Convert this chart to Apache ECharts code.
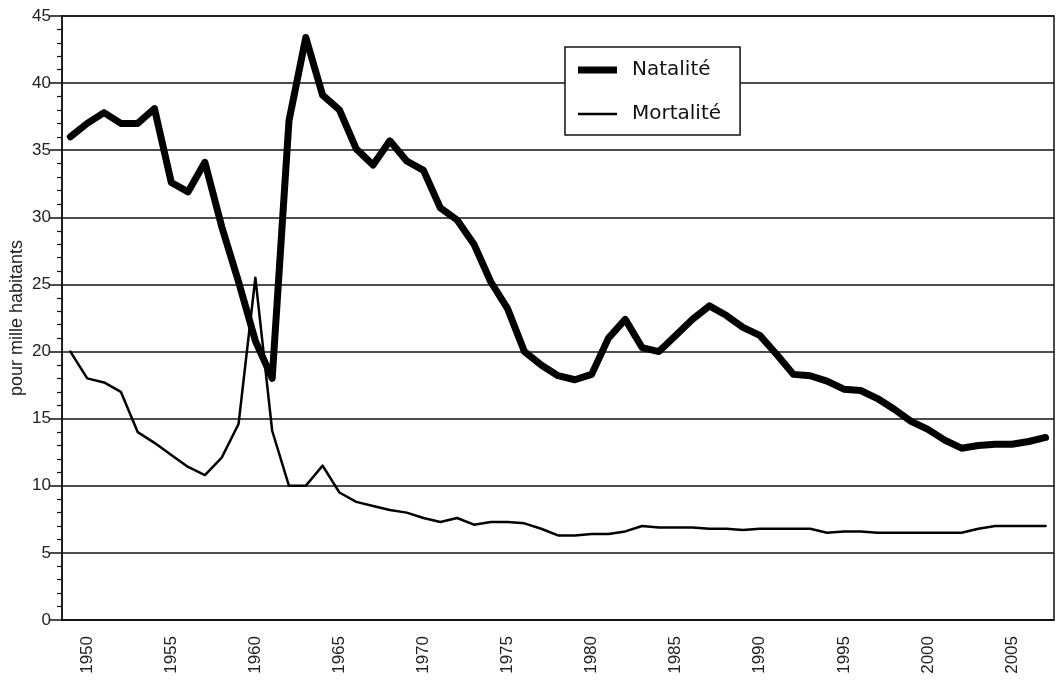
<!DOCTYPE html>
<html>
<head>
<meta charset="utf-8">
<script src="https://cdn.jsdelivr.net/npm/echarts@6/dist/echarts.min.js"></script>
<style>
  html, body { margin: 0; padding: 0; background: #fff; }
  #chart { width: 1057px; height: 684px; }
</style>
</head>
<body>
<div id="chart"></div>
<script>
// années
const years = [
  "1949", "1950", "1951", "1952", "1953", "1954", "1955", "1956", "1957", "1958",
  "1959", "1960", "1961", "1962", "1963", "1964", "1965", "1966", "1967", "1968",
  "1969", "1970", "1971", "1972", "1973", "1974", "1975", "1976", "1977", "1978",
  "1979", "1980", "1981", "1982", "1983", "1984", "1985", "1986", "1987", "1988",
  "1989", "1990", "1991", "1992", "1993", "1994", "1995", "1996", "1997", "1998",
  "1999", "2000", "2001", "2002", "2003", "2004", "2005", "2006", "2007"
];
// taux de natalité (pour mille)
const natalite = [
  36.0, 37.0, 37.8, 37.0, 37.0, 38.1, 32.6, 31.9, 34.1, 29.3,
  25.2, 20.8, 18.0, 37.2, 43.4, 39.1, 38.0, 35.1, 33.9, 35.7,
  34.2, 33.5, 30.7, 29.8, 28.0, 25.2, 23.2, 20.0, 19.0, 18.2,
  17.9, 18.3, 21.0, 22.4, 20.3, 20.0, 21.2, 22.4, 23.4, 22.7,
  21.8, 21.2, 19.8, 18.3, 18.2, 17.8, 17.2, 17.1, 16.5, 15.7,
  14.8, 14.2, 13.4, 12.8, 13.0, 13.1, 13.1, 13.3, 13.6
];
// taux de mortalité (pour mille)
const mortalite = [
  20.0, 18.0, 17.7, 17.0, 14.0, 13.2, 12.3, 11.4, 10.8, 12.1,
  14.6, 25.5, 14.1, 10.0, 10.0, 11.5, 9.5, 8.8, 8.5, 8.2,
  8.0, 7.6, 7.3, 7.6, 7.1, 7.3, 7.3, 7.2, 6.8, 6.3,
  6.3, 6.4, 6.4, 6.6, 7.0, 6.9, 6.9, 6.9, 6.8, 6.8,
  6.7, 6.8, 6.8, 6.8, 6.8, 6.5, 6.6, 6.6, 6.5, 6.5,
  6.5, 6.5, 6.5, 6.5, 6.8, 7.0, 7.0, 7.0, 7.0
];

const font = "Liberation Sans";
const myChart = echarts.init(document.getElementById("chart"));

const option = {
  animation: false,
  backgroundColor: "#fff",
  grid: {
    left: 62,
    right: 3,
    top: 16,
    bottom: 64,
    outerBoundsMode: "none",
    containLabel: false,
    show: true,
    borderColor: "#111",
    borderWidth: 1.5,
  },
  legend: {
    left: 565,
    top: 47,
    orient: "vertical",
    data: [
      { name: "Natalité", icon: "path://M0,0L39,0L39,7L0,7Z" },
      { name: "Mortalité", icon: "path://M0,0L39,0L39,2.5L0,2.5Z" },
    ],
    backgroundColor: "#fff",
    borderColor: "#111",
    borderWidth: 1.5,
    borderRadius: 0,
    padding: [11, 19, 9, 13],
    itemWidth: 39,
    itemHeight: 14,
    itemGap: 20,
    itemStyle: { color: "#000", borderWidth: 0 },
    textStyle: {
      fontFamily: "DejaVu Sans",
      fontSize: 20,
      lineHeight: 24,
      color: "#111",
      padding: [0, 0, 0, 10],
    },
  },
  xAxis: {
    type: "category",
    data: years,
    boundaryGap: true,
    axisLine: { lineStyle: { color: "#111", width: 1.5 } },
    axisTick: {
      interval: 0,
      length: 10,
      lineStyle: { color: "#111", width: 1.5 },
    },
    axisLabel: {
      interval: function (index, value) {
        return Number(value) % 5 === 0;
      },
      rotate: 90,
      margin: 16,
      fontFamily: font,
      fontSize: 17,
      color: "#222",
    },
    splitLine: { show: false },
  },
  yAxis: {
    type: "value",
    min: 0,
    max: 45,
    interval: 5,
    name: "pour mille habitants",
    nameLocation: "middle",
    nameGap: 36,
    nameMoveOverlap: false,
    nameTextStyle: { fontFamily: font, fontSize: 18, color: "#222" },
    axisLine: { show: true, lineStyle: { color: "#111", width: 1.5 } },
    axisTick: { show: true, length: 12, lineStyle: { color: "#111", width: 1.5 } },
    minorTick: { show: true, splitNumber: 5, length: 5, lineStyle: { color: "#111", width: 1.2 } },
    axisLabel: { margin: 11, fontFamily: font, fontSize: 17, color: "#222" },
    splitLine: { show: true, lineStyle: { color: "#111", width: 1.5 } },
  },
  series: [
    {
      name: "Natalité",
      type: "line",
      data: natalite,
      symbol: "none",
      z: 3,
      lineStyle: { color: "#000", width: 7, cap: "round", join: "round" },
      itemStyle: { color: "#000" },
    },
    {
      name: "Mortalité",
      type: "line",
      data: mortalite,
      symbol: "none",
      z: 2,
      lineStyle: { color: "#000", width: 2.5, cap: "round", join: "round" },
      itemStyle: { color: "#000" },
    },
  ],
};

myChart.setOption(option);
</script>
</body>
</html>
